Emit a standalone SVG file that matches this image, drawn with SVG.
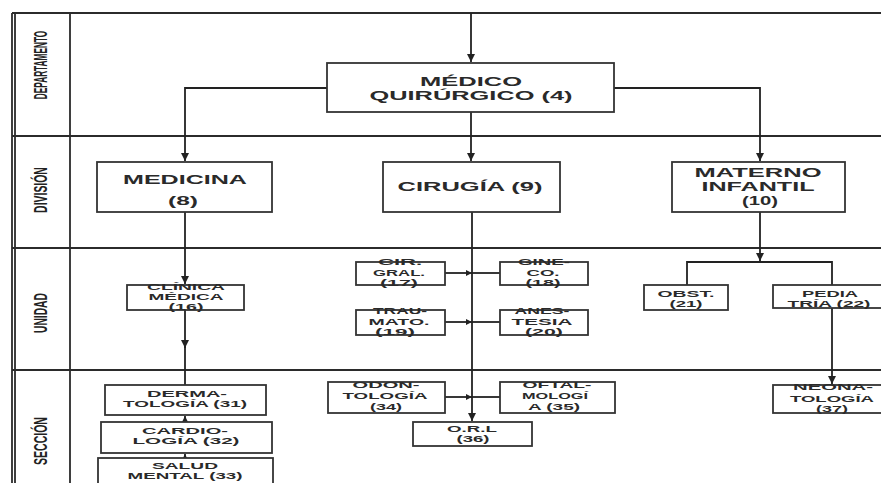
<svg xmlns="http://www.w3.org/2000/svg" width="881" height="483" viewBox="0 0 881 483">
<defs>
<style>
.grid{stroke:#2b2b2b;stroke-width:1.8;fill:none}
.box{fill:#fff;stroke:#333;stroke-width:1.8}
.ln{stroke:#222;stroke-width:1.8;fill:none}
.t{font-family:"Liberation Sans",Arial,sans-serif;font-weight:bold;fill:#2a2a2a;text-anchor:middle}
.big{font-size:12px}
.sm{font-size:9.5px}
.lab{font-family:"Liberation Sans",Arial,sans-serif;font-weight:bold;fill:#222;font-size:18px;text-anchor:middle}
</style>
<marker id="ah" viewBox="0 0 10 10" refX="10" refY="5" markerWidth="8" markerHeight="8" markerUnits="userSpaceOnUse" orient="auto">
<path d="M0,0 L10,5 L0,10 Z" fill="#222"/>
</marker>
<marker id="ahs" viewBox="0 0 10 10" refX="10" refY="5" markerWidth="6" markerHeight="6" markerUnits="userSpaceOnUse" orient="auto">
<path d="M0,0 L10,5 L0,10 Z" fill="#222"/>
</marker>
</defs>
<rect width="881" height="483" fill="#fff"/>
<g id="grid">
<path class="grid" d="M12,13 H881 M12,136 H881 M12,248 H881 M12,370 H881 M12,13 V483 M15,13 V483 M70,13 V483"/>
<text class="lab" transform="translate(47,65) rotate(-90) scale(0.46,1)">DEPARTAMENTO</text>
<text class="lab" transform="translate(47,190) rotate(-90) scale(0.58,1)">DIVISIÓN</text>
<text class="lab" transform="translate(47,313) rotate(-90) scale(0.57,1)">UNIDAD</text>
<text class="lab" transform="translate(47,441) rotate(-90) scale(0.585,1)">SECCIÓN</text>
</g>
<g id="connectors">
<path class="ln" d="M471,13 V62" marker-end="url(#ah)"/>
<path class="ln" d="M327,88 H185 V161" marker-end="url(#ah)"/>
<path class="ln" d="M471,112 V161" marker-end="url(#ah)"/>
<path class="ln" d="M614,88 H760 V161" marker-end="url(#ah)"/>
<path class="ln" d="M185,212 V284" marker-end="url(#ah)"/>
<path class="ln" d="M185,310 V348" marker-end="url(#ah)"/>
<path class="ln" d="M185,346 V385"/>
<path class="ln" d="M185,422 V416" marker-end="url(#ah)"/>
<path class="ln" d="M185,458 V454" marker-end="url(#ah)"/>
<path class="ln" d="M472,212 V421" marker-end="url(#ah)"/>
<path class="ln" d="M445,273 H472" marker-end="url(#ahs)"/>
<path class="ln" d="M472,273 H500"/>
<path class="ln" d="M445,322 H472" marker-end="url(#ahs)"/>
<path class="ln" d="M472,322 H500"/>
<path class="ln" d="M445,397 H472" marker-end="url(#ahs)"/>
<path class="ln" d="M472,397 H500"/>
<path class="ln" d="M760,212 V261" marker-end="url(#ah)"/>
<path class="ln" d="M687,285 V262 H832 V285"/>
<path class="ln" d="M832,308 V384" marker-end="url(#ah)"/>
</g>
<g id="n4">
<rect class="box" x="327" y="63" width="287" height="49"/>
<text class="t big" x="471" y="86" textLength="102" lengthAdjust="spacingAndGlyphs">MÉDICO</text>
<text class="t big" x="471" y="100" textLength="203" lengthAdjust="spacingAndGlyphs">QUIRÚRGICO (4)</text>
</g>
<g id="n8">
<rect class="box" x="97" y="162" width="175" height="50"/>
<text class="t big" x="185" y="184" textLength="124" lengthAdjust="spacingAndGlyphs">MEDICINA</text>
<text class="t big" x="183" y="205" textLength="30" lengthAdjust="spacingAndGlyphs">(8)</text>
</g>
<g id="n9">
<rect class="box" x="383" y="162" width="177" height="50"/>
<text class="t big" x="470" y="191" textLength="145" lengthAdjust="spacingAndGlyphs">CIRUGÍA (9)</text>
</g>
<g id="n10">
<rect class="box" x="672" y="162" width="173" height="50"/>
<text class="t big" x="758" y="177" textLength="127" lengthAdjust="spacingAndGlyphs">MATERNO</text>
<text class="t big" x="758" y="191" textLength="113" lengthAdjust="spacingAndGlyphs">INFANTIL</text>
<text class="t big" x="760" y="205" textLength="36" lengthAdjust="spacingAndGlyphs">(10)</text>
</g>
<g id="n16">
<rect class="box" x="127" y="285" width="117" height="25"/>
<text class="t sm" x="186" y="290" textLength="78" lengthAdjust="spacingAndGlyphs">CLÍNICA</text>
<text class="t sm" x="186" y="300" textLength="75" lengthAdjust="spacingAndGlyphs">MÉDICA</text>
<text class="t sm" x="186" y="310" textLength="35" lengthAdjust="spacingAndGlyphs">(16)</text>
</g>
<g id="n17">
<rect class="box" x="356" y="262" width="89" height="23"/>
<text class="t sm" x="400" y="265" textLength="44" lengthAdjust="spacingAndGlyphs">CIR.</text>
<text class="t sm" x="399" y="276" textLength="52" lengthAdjust="spacingAndGlyphs">GRAL.</text>
<text class="t sm" x="399" y="286" textLength="38" lengthAdjust="spacingAndGlyphs">(17)</text>
</g>
<g id="n18">
<rect class="box" x="500" y="262" width="88" height="23"/>
<text class="t sm" x="544" y="265" textLength="52" lengthAdjust="spacingAndGlyphs">GINE-</text>
<text class="t sm" x="543" y="276" textLength="33" lengthAdjust="spacingAndGlyphs">CO.</text>
<text class="t sm" x="543" y="286" textLength="35" lengthAdjust="spacingAndGlyphs">(18)</text>
</g>
<g id="n19">
<rect class="box" x="356" y="310" width="89" height="25"/>
<text class="t sm" x="400" y="314" textLength="54" lengthAdjust="spacingAndGlyphs">TRAU-</text>
<text class="t sm" x="399" y="325" textLength="61" lengthAdjust="spacingAndGlyphs">MATO.</text>
<text class="t sm" x="395" y="335" textLength="40" lengthAdjust="spacingAndGlyphs">(19)</text>
</g>
<g id="n20">
<rect class="box" x="500" y="310" width="88" height="25"/>
<text class="t sm" x="542" y="314" textLength="55" lengthAdjust="spacingAndGlyphs">ANES-</text>
<text class="t sm" x="542" y="325" textLength="61" lengthAdjust="spacingAndGlyphs">TESIA</text>
<text class="t sm" x="544" y="335" textLength="38" lengthAdjust="spacingAndGlyphs">(20)</text>
</g>
<g id="n21">
<rect class="box" x="644" y="285" width="84" height="25"/>
<text class="t sm" x="686" y="297" textLength="57" lengthAdjust="spacingAndGlyphs">OBST.</text>
<text class="t sm" x="686" y="307" textLength="33" lengthAdjust="spacingAndGlyphs">(21)</text>
</g>
<g id="n22">
<rect class="box" x="773" y="285" width="112" height="23"/>
<text class="t sm" x="830" y="297" textLength="56" lengthAdjust="spacingAndGlyphs">PEDIA</text>
<text class="t sm" x="829" y="307" textLength="83" lengthAdjust="spacingAndGlyphs">TRÍA (22)</text>
</g>
<g id="n31">
<rect class="box" x="105" y="385" width="161" height="30"/>
<text class="t sm" x="187" y="397" textLength="80" lengthAdjust="spacingAndGlyphs">DERMA-</text>
<text class="t sm" x="185" y="407" textLength="124" lengthAdjust="spacingAndGlyphs">TOLOGÍA (31)</text>
</g>
<g id="n32">
<rect class="box" x="101" y="422" width="171" height="31"/>
<text class="t sm" x="185" y="434" textLength="86" lengthAdjust="spacingAndGlyphs">CARDIO-</text>
<text class="t sm" x="186" y="444" textLength="107" lengthAdjust="spacingAndGlyphs">LOGÍA (32)</text>
</g>
<g id="n33">
<rect class="box" x="98" y="458" width="175" height="30"/>
<text class="t sm" x="185" y="469" textLength="66" lengthAdjust="spacingAndGlyphs">SALUD</text>
<text class="t sm" x="185" y="479" textLength="115" lengthAdjust="spacingAndGlyphs">MENTAL (33)</text>
</g>
<g id="n34">
<rect class="box" x="328" y="382" width="117" height="31"/>
<text class="t sm" x="386" y="388" textLength="67" lengthAdjust="spacingAndGlyphs">ODON-</text>
<text class="t sm" x="385" y="399" textLength="85" lengthAdjust="spacingAndGlyphs">TOLOGÍA</text>
<text class="t sm" x="386" y="410" textLength="32" lengthAdjust="spacingAndGlyphs">(34)</text>
</g>
<g id="n35">
<rect class="box" x="500" y="382" width="115" height="31"/>
<text class="t sm" x="557" y="388" textLength="69" lengthAdjust="spacingAndGlyphs">OFTAL-</text>
<text class="t sm" x="555" y="399" textLength="66" lengthAdjust="spacingAndGlyphs">MOLOGÍ</text>
<text class="t sm" x="554" y="410" textLength="52" lengthAdjust="spacingAndGlyphs">A (35)</text>
</g>
<g id="n36">
<rect class="box" x="413" y="422" width="119" height="24"/>
<text class="t sm" x="472" y="432" textLength="50" lengthAdjust="spacingAndGlyphs">O.R.L</text>
<text class="t sm" x="473" y="442" textLength="33" lengthAdjust="spacingAndGlyphs">(36)</text>
</g>
<g id="n37">
<rect class="box" x="773" y="385" width="112" height="28"/>
<text class="t sm" x="833" y="390" textLength="80" lengthAdjust="spacingAndGlyphs">NEONA-</text>
<text class="t sm" x="832" y="402" textLength="84" lengthAdjust="spacingAndGlyphs">TOLOGÍA</text>
<text class="t sm" x="832" y="412" textLength="32" lengthAdjust="spacingAndGlyphs">(37)</text>
</g>
</svg>
